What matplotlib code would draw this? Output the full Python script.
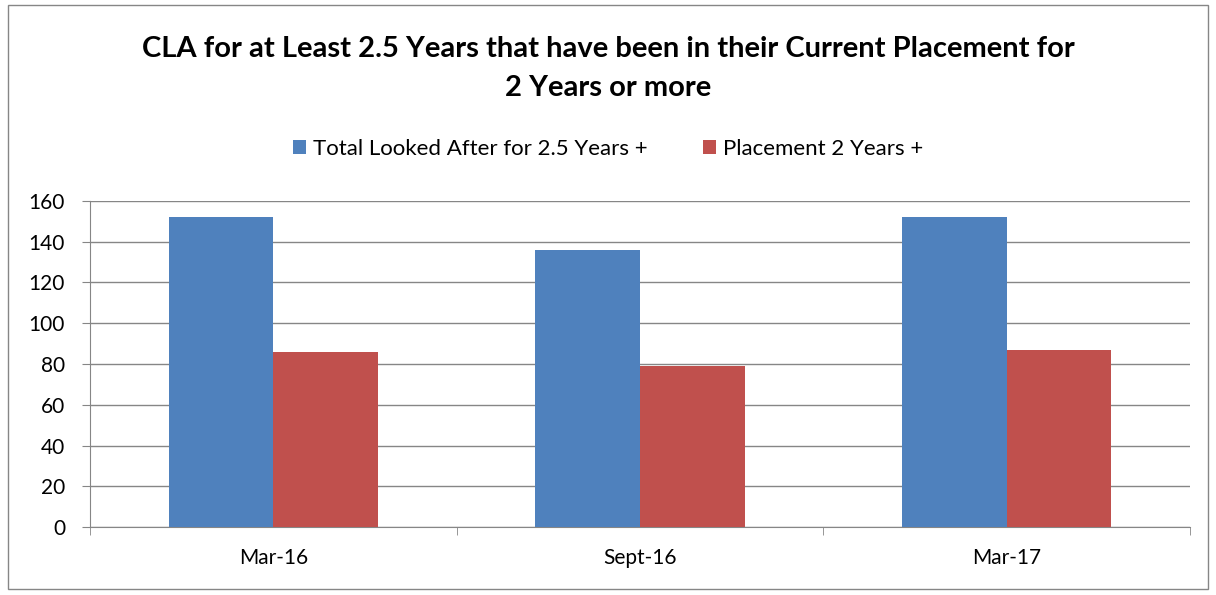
import numpy as np
import matplotlib
matplotlib.use('Agg')
from matplotlib import pyplot as plt
from matplotlib.patches import Rectangle

categories = ['Mar-16', 'Sept-16', 'Mar-17']
total_looked_after = [152, 136, 152]
placement_2yrs = [86, 79, 87]
series_names = ['Total Looked After for 2.5 Years +', 'Placement 2 Years +']

plt.rcParams['font.family'] = ['Lato', 'DejaVu Sans']

fig = plt.figure(figsize=(12.16, 5.95), dpi=100)
ax = fig.add_axes([90 / 1216, 68 / 595, 1100 / 1216, 326 / 595])

x = np.arange(len(categories))
w = 1 / 3.5
ax.bar(x - w / 2, total_looked_after, w, color='#4F81BD', label=series_names[0], zorder=3)
ax.bar(x + w / 2, placement_2yrs, w, color='#C0504D', label=series_names[1], zorder=3)

ax.set_xlim(-0.5, 2.5)
ax.set_ylim(0, 160)
ax.set_yticks(range(0, 161, 20))
ax.set_xticks(x)
ax.set_xticklabels(categories)
ax.set_xticks(np.arange(-0.5, 2.6, 1), minor=True)
ax.tick_params(axis='x', which='major', length=0, pad=15, labelsize=15)
ax.tick_params(axis='x', which='minor', length=6, color='#868686', direction='out')
ax.tick_params(axis='y', length=6, color='#868686', labelsize=15, pad=12)
ax.grid(axis='y', color='#868686', lw=1, zorder=0)
for s in ['top', 'right']:
    ax.spines[s].set_visible(False)
for s in ['left', 'bottom']:
    ax.spines[s].set_color('#868686')

fig.text(0.5, 1 - 49 / 595, 'CLA for at Least 2.5 Years that have been in their Current Placement for',
         ha='center', va='center', fontsize=21, fontweight='bold')
fig.text(0.5, 1 - 88 / 595, '2 Years or more',
         ha='center', va='center', fontsize=21, fontweight='bold')

fig.legend(loc='center', bbox_to_anchor=(0.5, 1 - 149 / 595), ncol=2, frameon=False,
           fontsize=16, handlelength=0.6, handleheight=0.6, handletextpad=0.3, columnspacing=2.5)

fig.patches.append(Rectangle((8 / 1216, 6 / 595), 1200 / 1216, 584 / 595, transform=fig.transFigure,
                             fill=False, edgecolor='#868686', lw=1))

fig.savefig('out.png', dpi=100)
